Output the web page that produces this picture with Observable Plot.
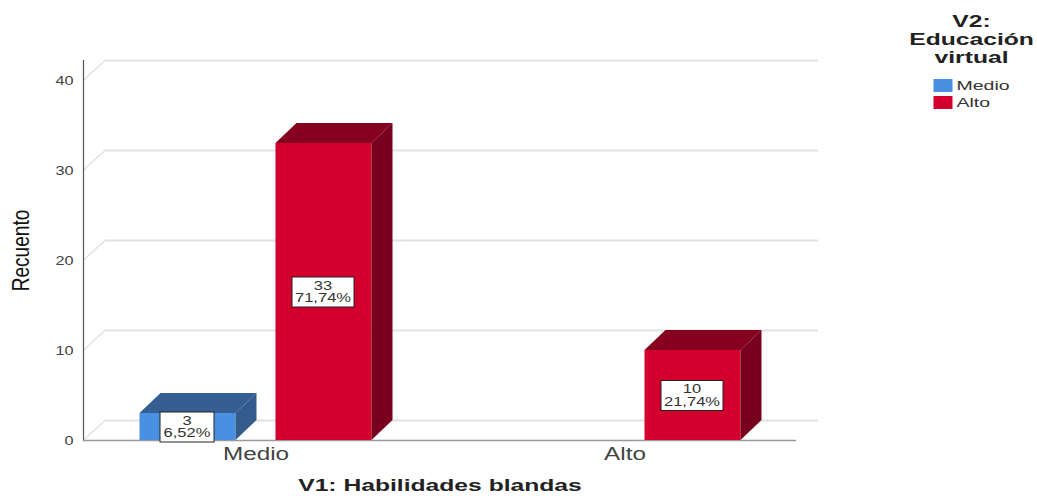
<!DOCTYPE html>
<html><head><meta charset="utf-8">
<script src="https://cdn.jsdelivr.net/npm/d3@7"></script>
<script src="https://cdn.jsdelivr.net/npm/@observablehq/plot@0.6"></script>
<style>html,body{margin:0;padding:0;background:#fff}svg{display:block}</style>
</head><body><div id="chart"></div>
<script>
const groups = ["Medio", "Alto"];
const series = ["Medio", "Alto"];
const rowGroup = ["Medio", "Medio", "Alto"];
const rowSeries = ["Medio", "Alto", "Alto"];
const rowCount = [3, 33, 10];
const rowPct = ["6,52%", "71,74%", "21,74%"];
const yTicks = [0, 10, 20, 30, 40];
const colors = ["#4a90e2", "#d3002d"];
const topColors = {Medio: "#355f92", Alto: "#85001f"};
const sideColors = {Medio: "#335c8c", Alto: "#78001c"};
const insets = {Medio: [68.5, 204.5], Alto: [204.5, 68.5]};
const depth = 21, rise = 20;
const font = "'Liberation Sans', Arial, sans-serif";
const rows = rowCount.map((c, i) => ({group: rowGroup[i], series: rowSeries[i], count: c, pct: rowPct[i]}));
const NS = "http://www.w3.org/2000/svg";
function el(name, attrs) {
  const e = document.createElementNS(NS, name);
  for (const k in attrs) e.setAttribute(k, attrs[k]);
  return e;
}
// Marks the mark's group with the horizontal text stretch to apply once the chart is in the page.
function stretched(f, extra) {
  return function (index, scales, values, dims, ctx, next) {
    const g = next(index, scales, values, dims, ctx);
    g.setAttribute("data-stretch", f);
    if (extra) extra(g, index, scales);
    return g;
  };
}
function legendItem(name, i) {
  return Plot.text([name], {
    frameAnchor: "top-right", textAnchor: "start", lineAnchor: "middle",
    dx: 160, dy: 25 + i * 17, fontSize: 13, fill: "#333",
    render: stretched(1.5, (g, index, scales) => {
      const t = g.querySelector("text");
      const r = el("rect", {x: -23, y: -6.5, width: 19, height: 13, fill: scales.color(name)});
      r.setAttribute("transform", t.getAttribute("transform"));
      g.insertBefore(r, t);
    })
  });
}
function barsFor(s) {
  const data = rows.filter(d => d.series === s);
  return Plot.barY(data, {
    x: "group", y: "count", fill: "series", insetLeft: insets[s][0], insetRight: insets[s][1],
    render(index, scales, values, dims, ctx, next) {
      const g = next(index, scales, values, dims, ctx);
      [...g.querySelectorAll("rect")].forEach(r => {
        const x = +r.getAttribute("x"), y = +r.getAttribute("y"), w = +r.getAttribute("width"), h = +r.getAttribute("height");
        g.appendChild(el("polygon", {fill: topColors[s], points: `${x},${y} ${x + depth},${y - rise} ${x + w + depth},${y - rise} ${x + w},${y}`}));
        g.appendChild(el("polygon", {fill: sideColors[s], points: `${x + w},${y} ${x + w + depth},${y - rise} ${x + w + depth},${y + h - rise} ${x + w},${y + h}`}));
      });
      return g;
    }
  });
}
function labelsFor(s) {
  const data = rows.filter(d => d.series === s);
  return Plot.text(data, {
    x: "group", y: d => d.count / 2, dx: (insets[s][0] - insets[s][1]) / 2 - 1,
    text: d => d.count + "\n" + d.pct, lineHeight: 1, fontSize: 12.5, fill: "#333",
    render: stretched(1.32, (g, index) => {
      [...g.querySelectorAll("text")].forEach((t, k) => {
        const w = 14 + 8 * data[index[k]].pct.length;
        const r = el("rect", {x: -w / 2, y: -15, width: w, height: 30, fill: "#fff", stroke: "#222", "stroke-width": 1});
        r.setAttribute("transform", t.getAttribute("transform"));
        g.insertBefore(r, t);
      });
    })
  });
}
const plot = Plot.plot({
  width: 1037, height: 500,
  marginLeft: 83, marginRight: 241, marginTop: 60, marginBottom: 60,
  style: {fontFamily: font, background: "#fff"},
  x: {domain: groups, range: [70.5, 808.5], padding: 0, label: null, axis: null},
  y: {domain: [0, 40], range: [440, 80], label: null, axis: null},
  color: {domain: series, range: colors},
  marks: [
    Plot.ruleY(yTicks, {
      dx: depth + 1, dy: -rise, stroke: "#e2e2e2", strokeWidth: 2,
      render(index, scales, values, dims, ctx, next) {
        const g = next(index, scales, values, dims, ctx);
        [...g.querySelectorAll("line")].forEach(l => {
          const x = +l.getAttribute("x1"), y = +l.getAttribute("y1");
          g.appendChild(el("line", {x1: x - depth - 1, y1: y + rise, x2: x, y2: y, stroke: "#e2e2e2", "stroke-width": 1.5}));
        });
        return g;
      }
    }),
    Plot.frame({anchor: "left", stroke: "#555", strokeWidth: 1.2}),
    Plot.ruleY([0], {stroke: "#999", strokeWidth: 1.5}),
    Plot.axisY(yTicks, {anchor: "left", tickSize: 0, tickPadding: 10, fontSize: 12.5, color: "#444", label: null}),
    ...series.map(barsFor),
    ...series.map(labelsFor),
    Plot.axisX({anchor: "bottom", tickSize: 0, tickPadding: 7, fontSize: 18, color: "#444", label: null}),
    Plot.text(["V1: Habilidades blandas"], {frameAnchor: "bottom", dy: 50, fontSize: 17, fontWeight: "bold", fill: "#222", render: stretched(1.45)}),
    Plot.text(["Recuento"], {frameAnchor: "left", textAnchor: "middle", rotate: -90, dx: -62, fontSize: 23, fill: "#111", render: stretched(0.83)}),
    Plot.text(["V2:\nEducación\nvirtual"], {frameAnchor: "top-right", textAnchor: "middle", lineAnchor: "top", dx: 175, dy: -46, fontSize: 17, lineHeight: 1.06, fontWeight: "bold", fill: "#222", render: stretched(1.45)}),
    ...series.map(legendItem)
  ]
});
document.getElementById("chart").appendChild(plot);
plot.querySelectorAll('[aria-label="y-axis tick label"]').forEach(g => g.setAttribute("data-stretch", 1.3));
plot.querySelectorAll('[aria-label="x-axis tick label"]').forEach(g => g.setAttribute("data-stretch", 1.35));
plot.querySelectorAll("[data-stretch]").forEach(g => {
  const f = +g.getAttribute("data-stretch");
  g.querySelectorAll("text").forEach(t => {
    const parts = t.querySelectorAll("tspan");
    (parts.length ? [...parts] : [t]).forEach(p => {
      p.setAttribute("textLength", p.getComputedTextLength() * f);
      p.setAttribute("lengthAdjust", "spacingAndGlyphs");
    });
  });
});
</script></body></html>
